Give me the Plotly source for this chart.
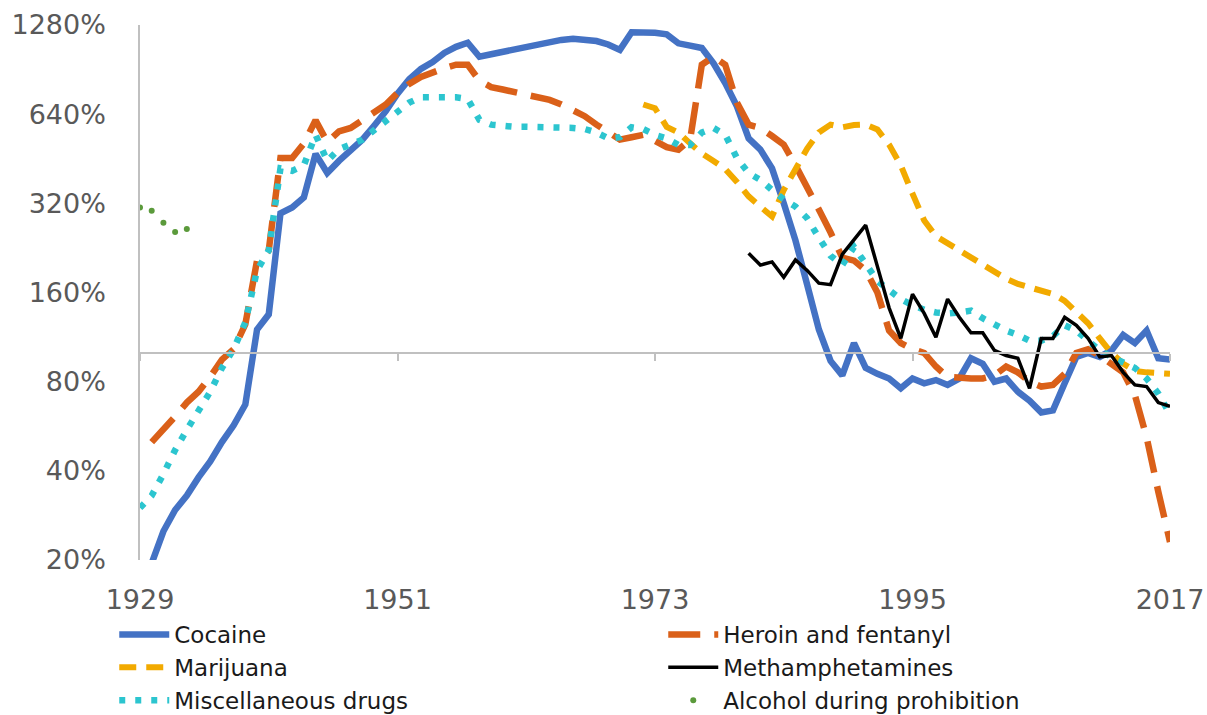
import math
import plotly.graph_objects as go

# ---------------- data (percent, annual) ----------------
cocaine_years = list(range(1930, 2018))
cocaine = [
    19.5, 25, 29.5, 33, 38, 43, 50, 57, 67, 120,          # 1930-1939
    135, 296, 310, 335, 470, 405, 445, 480, 525, 585,      # 1940-1949
    655, 750, 840, 910, 960, 1030, 1080, 1115, 1000, 1020, # 1950-1959
    1040, 1060, 1080, 1100, 1120, 1140, 1150, 1145, 1130, 1100,  # 1960-1969
    1055, 1210, 1215, 1205, 1190, 1110, 1090, 1070, 950, 815,    # 1970-1979
    680, 530, 486, 420, 320, 240, 170, 120, 94, 84,        # 1980-1989
    108, 89, 85, 82, 76, 82, 79, 81, 78, 82,               # 1990-1999
    96, 92, 80, 82, 74, 69, 63, 64, 79, 97,                # 2000-2009
    100, 97, 102, 115, 108, 119, 96, 95,                   # 2010-2017
]

heroin_years = list(range(1930, 2018))
heroin = [
    50, 55, 61, 68, 74, 83, 95, 103, 125, 205,             # 1930-1939
    222, 455, 455, 510, 610, 515, 560, 575, 610, 650,      # 1940-1949
    690, 755, 810, 855, 890, 915, 940, 940, 830, 790,      # 1950-1959
    775, 760, 750, 730, 715, 690, 660, 630, 590, 555,      # 1960-1969
    525, 535, 545, 520, 495, 485, 525, 940, 1000, 940,     # 1970-1979
    700, 590, 575, 540, 505, 430, 365, 305, 255, 210,      # 1980-1989
    205, 190, 160, 119, 108, 103, 100, 90, 83, 82,         # 1990-1999
    82, 82, 84, 90, 86, 80, 77, 78, 85, 100,               # 2000-2009
    103, 98, 92, 86, 72, 52, 34, 23,                       # 2010-2017
]

marijuana_years = list(range(1972, 2018))
marijuana = [
    690, 670, 580, 555, 510, 472, 445, 418,                # 1972-1979
    378, 338, 312, 289, 355, 420, 490, 555, 590, 578,      # 1980-1989
    588, 590, 568, 505, 430, 345, 280, 248, 235, 222,      # 1990-1999
    211, 200, 187, 178, 171, 166, 162, 158, 150, 138,      # 2000-2009
    126, 112, 100, 92, 87, 86, 85, 85,                     # 2010-2017
]

meth_years = list(range(1981, 2018))
meth = [
    217, 198, 203, 180, 206, 190, 172, 170, 215,           # 1981-1989
    240, 270, 196, 142, 112, 158, 136, 113, 152, 132,      # 1990-1999
    117, 117, 102, 98, 96, 76, 112, 112, 132, 124,         # 2000-2009
    112, 97, 98, 86, 78, 77, 68, 66,                       # 2010-2017
]

misc_years = list(range(1929, 2018))
misc = [
    30,                                                    # 1929
    33, 39, 47, 55, 64, 74, 89, 103, 127, 190,             # 1930-1939
    222, 420, 412, 430, 545, 445, 488, 505, 525, 565,      # 1940-1949
    610, 650, 700, 730, 730, 725, 730, 720, 612, 590,      # 1950-1959
    582, 580, 580, 580, 578, 576, 575, 570, 555, 530,      # 1960-1969
    535, 578, 570, 545, 530, 504, 504, 555, 575, 545,      # 1970-1979
    455, 405, 384, 355, 330, 312, 285, 245, 213, 198,      # 1980-1989
    228, 200, 175, 163, 152, 145, 140, 137, 136, 137,      # 1990-1999
    139, 131, 124, 119, 115, 110, 110, 114, 124, 119,      # 2000-2009
    110, 102, 97, 93, 89, 82, 73, 62,                      # 2010-2017
]

alcohol_years = [1929, 1930, 1931, 1932, 1933]
alcohol = [310, 302, 275, 256, 262]

x_ticks = [1929, 1951, 1973, 1995, 2017]
y_ticks = [20, 40, 80, 160, 320, 640, 1280]
y_tick_labels = ["20%", "40%", "80%", "160%", "320%", "640%", "1280%"]

# ---------------- figure ----------------
fig = go.Figure()
fig.add_trace(go.Scatter(x=cocaine_years, y=cocaine, name="Cocaine", mode="lines",
                         line=dict(color="#4472C4", width=6.5)))
fig.add_trace(go.Scatter(x=heroin_years, y=heroin, name="Heroin and fentanyl", mode="lines",
                         line=dict(color="#DA6019", width=6.5, dash="32px,14px")))
fig.add_trace(go.Scatter(x=marijuana_years, y=marijuana, name="Marijuana", mode="lines",
                         line=dict(color="#F2AA00", width=6, dash="17px,10px")))
fig.add_trace(go.Scatter(x=meth_years, y=meth, name="Methamphetamines", mode="lines",
                         xaxis="x2", line=dict(color="#000000", width=3.5)))
fig.add_trace(go.Scatter(x=misc_years, y=misc, name="Miscellaneous drugs", mode="lines",
                         line=dict(color="#2CC5CF", width=6.5, dash="6px,10px")))
fig.add_trace(go.Scatter(x=alcohol_years, y=alcohol, name="Alcohol during prohibition",
                         mode="markers", marker=dict(color="#5B9A3B", size=6)))

lo, hi = math.log10(20), math.log10(1280)
axis_pos = (math.log10(100) - lo) / (hi - lo)

tick_font = dict(family="DejaVu Sans", size=27, color="#595959")

fig.update_layout(
    width=1207, height=715,
    margin=dict(l=140, r=37, t=25, b=155, autoexpand=False),
    plot_bgcolor="white", paper_bgcolor="white",
    legend=dict(orientation="h", entrywidth=484, entrywidthmode="pixels",
                x=-0.025, xanchor="left", y=-0.099, yanchor="top",
                font=dict(family="DejaVu Sans", size=23, color="#1a1a1a"),
                itemwidth=50, bgcolor="rgba(0,0,0,0)", tracegroupgap=0),
    xaxis=dict(range=[1929, 2017], tickvals=x_ticks, showline=False, showgrid=False,
               zeroline=False, ticks="", tickfont=tick_font, ticklabelstandoff=21,
               automargin=False),
    xaxis2=dict(range=[1929, 2017], overlaying="x", anchor="free", position=axis_pos,
                tickvals=x_ticks, showticklabels=False, showline=True, linecolor="#C0C0C0",
                linewidth=1.5, ticks="outside", ticklen=7, tickwidth=1.5, tickcolor="#C0C0C0",
                showgrid=False, zeroline=False, automargin=False),
    yaxis=dict(type="log", range=[lo, hi], tickvals=y_ticks, ticktext=y_tick_labels,
               showline=True, linecolor="#C0C0C0", linewidth=1.5, ticks="", showgrid=False,
               zeroline=False, tickfont=tick_font, ticklabelstandoff=27, automargin=False),
)

fig.write_html("out.html",
               config={"displayModeBar": False},
               post_script="document.body.style.margin='0';document.body.style.overflow='hidden';")
